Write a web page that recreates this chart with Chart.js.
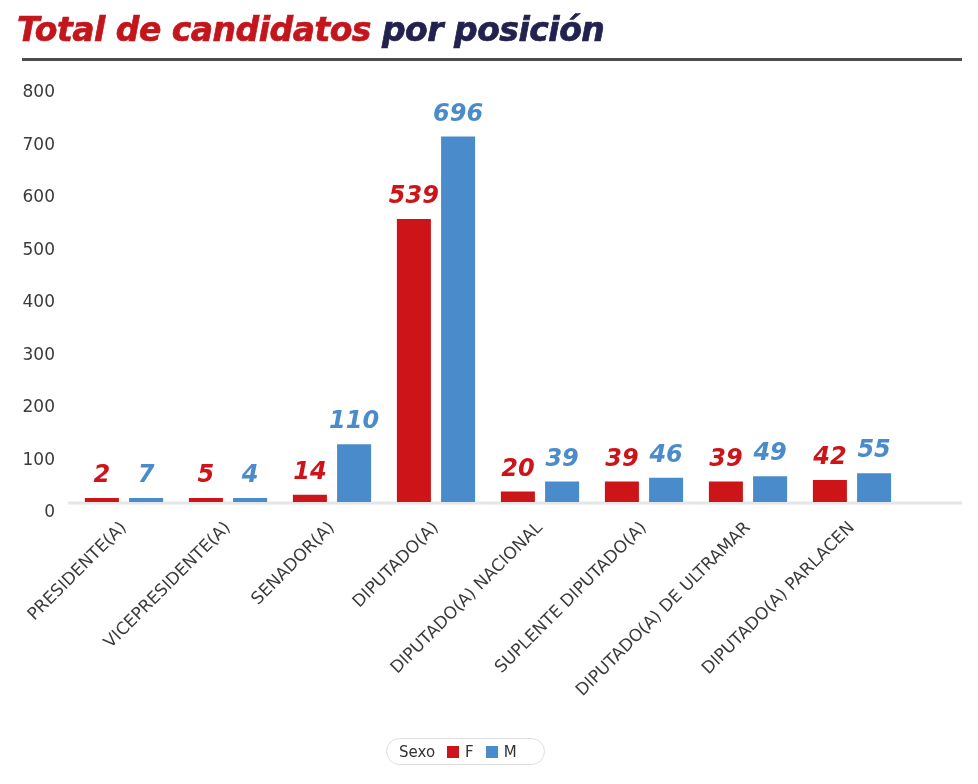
<!DOCTYPE html>
<html>
<head>
<meta charset="utf-8">
<script src="https://cdn.jsdelivr.net/npm/chart.js@4.4.1/dist/chart.umd.min.js"></script>
<style>
  html, body { margin:0; padding:0; background:#fff; }
  #wrap { position:relative; width:978px; height:784px; overflow:hidden; }
  #title { position:absolute; left:17px; top:10px; font:italic bold 33px "DejaVu Sans"; letter-spacing:-0.5px; white-space:nowrap; -webkit-text-stroke:0.7px currentColor; }
  #title .red { color:#c3161c; }
  #title .navy { color:#23224f; }
  #rule { position:absolute; left:22px; top:58px; width:940px; height:3px; background:#4d4d4d; }
  #chartBox { position:absolute; left:0; top:0; width:978px; height:784px; }
  #legend { position:absolute; left:386px; top:738px; height:27px; width:159px; padding:0 12px; border:1.5px solid #ddd; border-radius:14px;
            display:flex; align-items:center; gap:9px; font:15px "DejaVu Sans"; color:#333; box-sizing:border-box; }
  #legend .sw { display:inline-block; width:12px; height:12px; margin-right:6px; vertical-align:-1px; }
  #legend .item { margin-left:3px; }
</style>
</head>
<body>
<div id="wrap">
  <div id="chartBox"><canvas id="chart"></canvas></div>
  <div id="title"><span class="red">Total de candidatos</span> <span class="navy">por posición</span></div>
  <div id="rule"></div>
  <div id="legend"></div>
</div>
<script>
// Datos
const categories = ['PRESIDENTE(A)', 'VICEPRESIDENTE(A)', 'SENADOR(A)', 'DIPUTADO(A)',
  'DIPUTADO(A) NACIONAL', 'SUPLENTE DIPUTADO(A)', 'DIPUTADO(A) DE ULTRAMAR', 'DIPUTADO(A) PARLACEN'];
const femenino = [2, 5, 14, 539, 20, 39, 39, 42];
const masculino = [7, 4, 110, 696, 39, 46, 49, 55];
const yTicks = [0, 100, 200, 300, 400, 500, 600, 700, 800];
const legendTitle = 'Sexo';

const RED = '#cc1419';
const BLUE = '#4a8bcb';

// etiquetas de valor encima de cada barra
const valueLabels = {
  id:'valueLabels',
  afterDatasetsDraw(chart){
    const ctx = chart.ctx;
    ctx.save();
    ctx.font = 'italic bold 24px "DejaVu Sans"';
    ctx.textAlign = 'center';
    ctx.textBaseline = 'alphabetic';
    chart.data.datasets.forEach((ds, i)=>{
      const meta = chart.getDatasetMeta(i);
      ctx.fillStyle = ds.backgroundColor;
      meta.data.forEach((bar, j)=>{
        ctx.fillText(String(ds.data[j]), bar.x, bar.y - 16);
      });
    });
    ctx.restore();
  }
};

// linea base gris clara
const baseLine = {
  id:'baseLine',
  beforeDatasetsDraw(chart){
    const {ctx, chartArea, scales} = chart;
    const y = scales.y.getPixelForValue(0) + 1;
    ctx.save();
    ctx.strokeStyle = '#e6e6e6';
    ctx.lineWidth = 3;
    ctx.beginPath();
    ctx.moveTo(chartArea.left - 4, y);
    ctx.lineTo(chartArea.right + 58, y);
    ctx.stroke();
    ctx.restore();
  }
};

const chart = new Chart(document.getElementById('chart').getContext('2d'), {
  type:'bar',
  data:{
    labels: categories,
    datasets:[
      { label:'F', data: femenino, backgroundColor: RED, borderWidth:0, minBarLength:4 },
      { label:'M', data: masculino, backgroundColor: BLUE, borderWidth:0, minBarLength:4 }
    ]
  },
  options:{
    responsive:true,
    maintainAspectRatio:false,
    animation:false,
    datasets:{ bar:{ categoryPercentage:0.85, barPercentage:0.77 } },
    layout:{ padding:{ top:82, left:0, right:74, bottom:0 } },
    plugins:{ legend:{ display:false }, tooltip:{ enabled:false }, title:{ display:false } },
    scales:{
      x:{
        grid:{ display:false, drawTicks:false },
        border:{ display:false },
        ticks:{ color:'#3a3a3a', font:{ family:'DejaVu Sans', size:17 }, maxRotation:45, minRotation:45, autoSkip:false, padding:16 },
        afterFit(scale){ scale.height = 282; }
      },
      y:{
        min:0, max:800,
        grid:{ display:false, drawTicks:false },
        border:{ display:false },
        afterBuildTicks(scale){ scale.ticks = yTicks.map(v=>({ value:v })); },
        ticks:{ color:'#3a3a3a', font:{ family:'DejaVu Sans', size:17 }, padding:17, labelOffset:11 },
        afterFit(scale){ scale.width = 72; }
      }
    }
  },
  plugins:[baseLine, valueLabels]
});

// leyenda
const legendEl = document.getElementById('legend');
legendEl.innerHTML = `<span>${legendTitle}</span>` + chart.data.datasets.map(ds=>
  `<span class='item'><span class='sw' style='background:${ds.backgroundColor}'></span>${ds.label}</span>`).join('');
</script>
</body>
</html>
